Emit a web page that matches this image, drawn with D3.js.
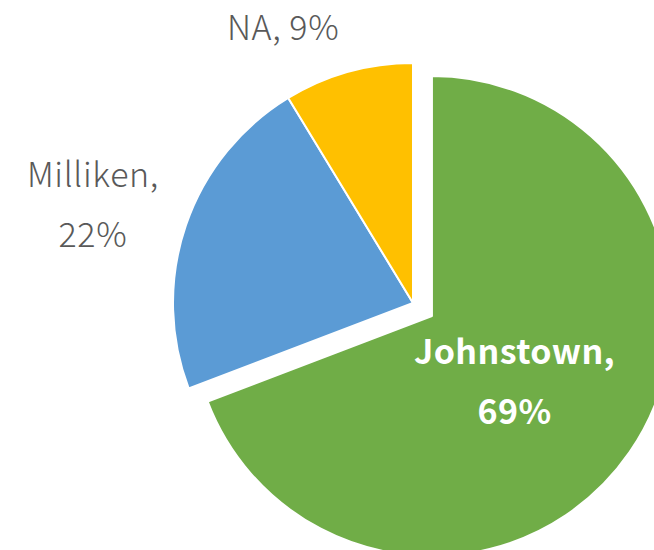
<!DOCTYPE html>
<html>
<head>
<meta charset='utf-8' />
<title></title>
<style>
  body{ margin:0; background:#fff; }
  svg{ display:block; }
  text{ font-family: "Noto Sans CJK JP", "Noto Sans", sans-serif; }
</style>
</head>
<body>
<script src="https://d3js.org/d3.v7.min.js"></script>
<script>

// chart data
let towns = ['Johnstown', 'Milliken', 'NA']
let shares = [69.2, 22.1, 8.7]
let pctLabels = ['69%', '22%', '9%']
let colors = ['#70AD47', '#5B9BD5', '#FFC000']

let width = 654, height = 550,
  cx = 413, cy = 303, radius = 240, explode = 23

let svg = d3.select('body').append('svg').attr('width', width).attr('height', height)
let g = svg.append('g').attr('transform', 'translate(' + cx + ',' + cy + ')')

let pie = d3.pie().sort(null).value(d => d)
let arcs = pie(shares)
let arc = d3.arc().innerRadius(0).outerRadius(radius)

// only the first slice is pulled out
function offset(d, i){
  if(i != 0) return [0, 0]
  let a = (d.startAngle + d.endAngle) / 2
  return [Math.sin(a) * explode, -Math.cos(a) * explode]
}

g.selectAll('path').data(arcs).enter().append('path')
  .attr('d', arc)
  .attr('transform', (d, i) => 'translate(' + offset(d, i) + ')')
  .style('fill', (d, i) => colors[i])
  .style('stroke', '#fff')
  .style('stroke-width', 2)
  .style('stroke-linejoin', 'round')

// label placement: angle (deg, clockwise from top) and distance from the pie centre
let labelPos = [
  {ang: 132.5, dist: 112, inside: true},
  {ang: 285.4, dist: 332, inside: false},
  {ang: 334.7, dist: 304, inside: false}
]

arcs.forEach((d, i) => {
  let p = labelPos[i], a = p.ang * Math.PI / 180
  let o = offset(d, i)
  let x = o[0] + Math.sin(a) * p.dist, y = o[1] - Math.cos(a) * p.dist
  let t = g.append('text')
    .attr('text-anchor', 'middle')
    .style('font-size', '34px')
    .style('letter-spacing', p.inside ? '0.4px' : '0.6px')
    .style('fill', p.inside ? '#fff' : '#595959')
    .style('font-weight', p.inside ? 'bold' : 300)
  if(i == 2){
    t.attr('x', x).attr('y', y + 12).text(towns[i] + ', ' + pctLabels[i])
  }else{
    t.append('tspan').attr('x', x).attr('y', y - 28).text(towns[i] + ',')
    t.append('tspan').attr('x', x).attr('y', y + 32).text(pctLabels[i])
  }
})

</script>
</body>
</html>
